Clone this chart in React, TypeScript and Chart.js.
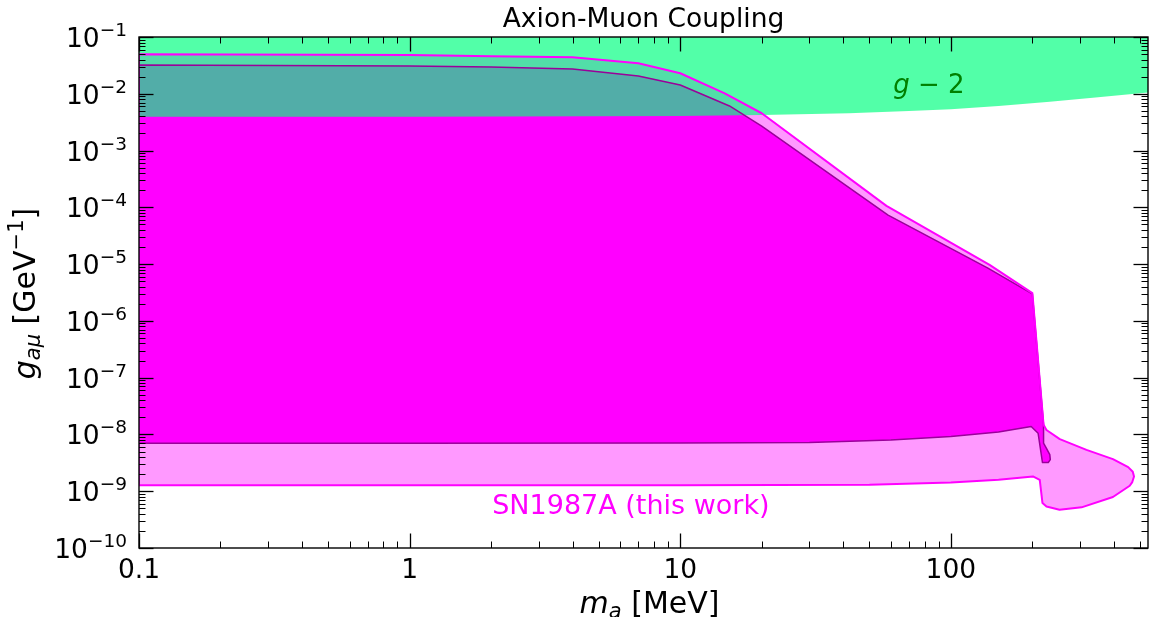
import React, { useEffect, useRef } from 'react';
import { Chart, registerables } from 'chart.js';

Chart.register(...registerables);

// ---------------- data ----------------
const TITLE = 'Axion-Muon Coupling';
const X_LABEL_MAIN = 'm';
const X_LABEL_SUB = 'a';
const X_LABEL_UNIT = ' [MeV]';
const Y_LABEL_MAIN = 'g';
const Y_LABEL_SUB = 'aμ';
const Y_LABEL_UNIT = ' [GeV';
const Y_LABEL_SUP = '−1';
const G2_LABEL = 'g';
const G2_LABEL_REST = ' − 2';
const SN_LABEL = 'SN1987A (this work)';

const X_MIN = 0.1;
const X_MAX = 535;
const Y_MIN = 1e-10;
const Y_MAX = 1e-1;

// g-2 favoured band (closed polygon: lower edge then top, above the frame)
const g2Mass = [0.1, 1, 5, 10, 20, 42, 70, 100, 150, 232, 350, 535, 535, 0.1];
const g2Coupling = [3.95e-3, 3.95e-3, 4.0e-3, 4.05e-3, 4.22e-3, 4.55e-3, 4.95e-3, 5.35e-3, 6.1e-3, 7.26e-3, 8.7e-3, 1.05e-2, 0.3, 0.3];

// SN1987A full excluded region (closed polygon)
const snOuterMass = [0.1, 1, 2, 4, 7, 10, 14.6, 20, 57.8, 139, 200, 220, 225.5, 252.6, 317, 397, 452, 470, 475, 468, 458, 397, 304, 252, 225.5, 218, 213, 201, 150, 100, 50, 10, 1, 0.1];
const snOuterCoupling = [0.0496, 0.048, 0.046, 0.044, 0.0344, 0.023, 0.0102, 0.00454, 1.06e-4, 9.7e-6, 3.08e-6, 1.48e-8, 1.2e-8, 8.26e-9, 5.36e-9, 3.67e-9, 2.66e-9, 2.2e-9, 1.82e-9, 1.45e-9, 1.25e-9, 7.9e-10, 5.2e-10, 4.7e-10, 5.4e-10, 6.2e-10, 1.59e-9, 1.82e-9, 1.6e-9, 1.43e-9, 1.3e-9, 1.28e-9, 1.28e-9, 1.28e-9];

// SN1987A core excluded region (closed polygon)
const snInnerMass = [0.1, 1, 2, 4, 7, 10, 15.2, 20, 58.6, 137, 200, 220, 220, 225.5, 232, 233, 229, 218, 210, 198, 150, 100, 60, 30, 10, 1, 0.1];
const snInnerCoupling = [0.032, 0.031, 0.0295, 0.0274, 0.0206, 0.0143, 0.0061, 0.0027, 7.3e-5, 8.5e-6, 3.0e-6, 1.48e-8, 7.0e-9, 5.7e-9, 4.4e-9, 3.6e-9, 3.2e-9, 3.2e-9, 1.05e-8, 1.38e-8, 1.1e-8, 9.2e-9, 8.0e-9, 7.2e-9, 7.05e-9, 7.0e-9, 7.0e-9];

// tick labels
const xTickValues = [0.1, 1, 10, 100];
const xTickLabels = ['0.1', '1', '10', '100'];
const yTickExponents = [-10, -9, -8, -7, -6, -5, -4, -3, -2, -1];

// ---------------- helpers ----------------
const FAMILY = '"DejaVu Sans", "Liberation Sans", sans-serif';
const font = (size: number, italic = false) => `${italic ? 'italic ' : ''}${size}px ${FAMILY}`;

const toPoints = (xs: number[], ys: number[]) => xs.map((x, i) => ({ x, y: ys[i] }));
const closed = (pts: { x: number; y: number }[]) => pts.concat([pts[0]]);

function logTicks(min: number, max: number) {
  const out: number[] = [];
  const e0 = Math.floor(Math.log10(min) + 1e-9);
  const e1 = Math.ceil(Math.log10(max) - 1e-9);
  for (let e = e0; e <= e1; e++) {
    for (let m = 1; m <= 9; m++) {
      const v = parseFloat((m * Math.pow(10, e)).toPrecision(6));
      if (v >= min * (1 - 1e-9) && v <= max * (1 + 1e-9)) out.push(v);
    }
  }
  return out;
}
const isMajor = (v: number) => Math.abs(Math.log10(v) - Math.round(Math.log10(v))) < 1e-6;

type Run = { text: string; font: string; dy?: number };
function runsWidth(ctx: CanvasRenderingContext2D, runs: Run[]) {
  let w = 0;
  for (const r of runs) {
    ctx.font = r.font;
    w += ctx.measureText(r.text).width;
  }
  return w;
}
function drawRuns(ctx: CanvasRenderingContext2D, runs: Run[], x: number, y: number) {
  let cx = x;
  for (const r of runs) {
    ctx.font = r.font;
    ctx.fillText(r.text, cx, y + (r.dy || 0));
    cx += ctx.measureText(r.text).width;
  }
}

const TICK_FONT = 26.5;
const SUP_FONT = 18.5;

const axesPlugin = {
  id: 'mplAxes',
  afterDatasetsDraw(chart: any) {
    const { ctx, chartArea: a, scales } = chart;
    const xs = scales.x;
    const ys = scales.y;
    ctx.save();
    ctx.strokeStyle = '#000';
    ctx.lineCap = 'butt';
    const seg = (x1: number, y1: number, x2: number, y2: number) => {
      ctx.beginPath();
      ctx.moveTo(x1, y1);
      ctx.lineTo(x2, y2);
      ctx.stroke();
    };
    for (const t of xs.ticks) {
      const px = Math.round(xs.getPixelForValue(t.value)) + 0.5;
      const major = isMajor(t.value);
      const len = major ? 14.5 : 6.5;
      ctx.lineWidth = major ? 1.3 : 1;
      seg(px, a.bottom, px, a.bottom - len);
      seg(px, a.top, px, a.top + len);
    }
    for (const t of ys.ticks) {
      const py = Math.round(ys.getPixelForValue(t.value)) + 0.5;
      const major = isMajor(t.value);
      const len = major ? 14.5 : 6.5;
      ctx.lineWidth = major ? 1.3 : 1;
      seg(a.left, py, a.left + len, py);
      seg(a.right, py, a.right - len, py);
    }
    ctx.lineWidth = 1.4;
    ctx.strokeRect(a.left, a.top, a.right - a.left, a.bottom - a.top);
    ctx.restore();
  },
  afterDraw(chart: any) {
    const { ctx, chartArea: a, scales } = chart;
    const xs = scales.x;
    const ys = scales.y;
    ctx.save();
    ctx.textAlign = 'left';
    ctx.textBaseline = 'alphabetic';
    ctx.fillStyle = '#000';

    // title
    {
      const runs = [{ text: TITLE, font: font(26.5) }];
      const w = runsWidth(ctx, runs);
      drawRuns(ctx, runs, (a.left + a.right) / 2 - w / 2, 27);
    }

    // x tick labels
    xTickValues.forEach((v, i) => {
      const px = xs.getPixelForValue(v);
      const runs = [{ text: xTickLabels[i], font: font(TICK_FONT) }];
      const w = runsWidth(ctx, runs);
      drawRuns(ctx, runs, px - w / 2, a.bottom + 29.5);
    });

    // y tick labels 10^e
    yTickExponents.forEach((e) => {
      const py = ys.getPixelForValue(Math.pow(10, e));
      const runs: Run[] = [
        { text: '10', font: font(TICK_FONT) },
        { text: '−' + String(Math.abs(e)), font: font(SUP_FONT), dy: -11 },
      ];
      const w = runsWidth(ctx, runs);
      drawRuns(ctx, runs, a.left - 12 - w, py + 10);
    });

    // x axis label
    {
      const runs: Run[] = [
        { text: X_LABEL_MAIN, font: font(30, true) },
        { text: X_LABEL_SUB, font: font(21, true), dy: 5 },
        { text: X_LABEL_UNIT, font: font(30) },
      ];
      const w = runsWidth(ctx, runs);
      drawRuns(ctx, runs, (a.left + a.right) / 2 + 6 - w / 2, a.bottom + 65);
    }

    // y axis label (rotated)
    {
      const runs: Run[] = [
        { text: Y_LABEL_MAIN, font: font(30, true) },
        { text: Y_LABEL_SUB, font: font(21, true), dy: 5 },
        { text: Y_LABEL_UNIT, font: font(30) },
        { text: Y_LABEL_SUP, font: font(21), dy: -12.5 },
        { text: ']', font: font(30) },
      ];
      const w = runsWidth(ctx, runs);
      ctx.save();
      ctx.translate(35, (a.top + a.bottom) / 2 + 1);
      ctx.rotate(-Math.PI / 2);
      drawRuns(ctx, runs, -w / 2, 0);
      ctx.restore();
    }

    // g-2 annotation
    {
      ctx.fillStyle = '#008000';
      const runs: Run[] = [
        { text: G2_LABEL, font: font(26, true) },
        { text: G2_LABEL_REST, font: font(26) },
      ];
      const w = runsWidth(ctx, runs);
      const cx = xs.getPixelForValue(83);
      const cy = ys.getPixelForValue(1.03e-2);
      drawRuns(ctx, runs, cx - w / 2, cy);
    }

    // SN1987A annotation
    {
      ctx.fillStyle = '#FF00FF';
      const runs: Run[] = [{ text: SN_LABEL, font: font(27) }];
      const w = runsWidth(ctx, runs);
      const cx = xs.getPixelForValue(6.57);
      const cy = ys.getPixelForValue(4.0e-10);
      drawRuns(ctx, runs, cx - w / 2, cy);
    }
    ctx.restore();
  },
};

export default function App() {
  const ref = useRef<HTMLCanvasElement>(null);

  useEffect(() => {
    const canvas = ref.current;
    if (!canvas) return;

    const outerPts = toPoints(snOuterMass, snOuterCoupling);
    const innerPts = toPoints(snInnerMass, snInnerCoupling);
    const g2Pts = toPoints(g2Mass, g2Coupling);

    const common = { pointRadius: 0, pointHoverRadius: 0, tension: 0, borderJoinStyle: 'round' as const };

    const chart = new Chart(canvas, {
      type: 'line',
      data: {
        datasets: [
          { ...common, label: 'SN1987A edge', data: closed(outerPts), borderColor: '#FF00FF', borderWidth: 2, fill: false },
          { ...common, label: 'SN1987A core edge', data: closed(innerPts), borderColor: '#9A009A', borderWidth: 1.5, fill: false },
          { ...common, label: 'g-2', data: g2Pts, backgroundColor: 'rgba(0,255,127,0.68)', borderColor: 'rgba(0,0,0,0)', borderWidth: 0, fill: 'shape' },
          { ...common, label: 'SN1987A core', data: innerPts, backgroundColor: '#FF00FF', borderColor: 'rgba(0,0,0,0)', borderWidth: 0, fill: 'shape' },
          { ...common, label: 'SN1987A', data: outerPts, backgroundColor: 'rgba(255,0,255,0.4)', borderColor: 'rgba(0,0,0,0)', borderWidth: 0, fill: 'shape' },
        ] as any,
      },
      options: {
        animation: false,
        responsive: false,
        devicePixelRatio: 1,
        events: [],
        layout: { padding: { top: 37, right: 11, left: 0, bottom: 0 } },
        plugins: {
          legend: { display: false },
          tooltip: { enabled: false },
          title: { display: false },
          filler: { drawTime: 'beforeDatasetsDraw' },
        } as any,
        scales: {
          x: {
            type: 'logarithmic',
            position: 'bottom',
            min: X_MIN,
            max: X_MAX,
            grid: { display: false },
            border: { display: false },
            ticks: { display: false },
            afterBuildTicks: (scale: any) => {
              scale.ticks = logTicks(X_MIN, X_MAX).map((v) => ({ value: v }));
            },
            afterFit: (scale: any) => {
              scale.height = 69;
            },
          },
          y: {
            type: 'logarithmic',
            position: 'left',
            min: Y_MIN,
            max: Y_MAX,
            grid: { display: false },
            border: { display: false },
            ticks: { display: false },
            afterBuildTicks: (scale: any) => {
              scale.ticks = logTicks(Y_MIN, Y_MAX).map((v) => ({ value: v }));
            },
            afterFit: (scale: any) => {
              scale.width = 139;
            },
          },
        } as any,
      },
      plugins: [axesPlugin],
    });

    return () => chart.destroy();
  }, []);

  return (
    <div style={{ position: 'fixed', left: 0, top: 0, width: 1159, height: 617, background: '#fff' }}>
      <canvas ref={ref} width={1159} height={617} style={{ display: 'block', width: 1159, height: 617 }} />
    </div>
  );
}
